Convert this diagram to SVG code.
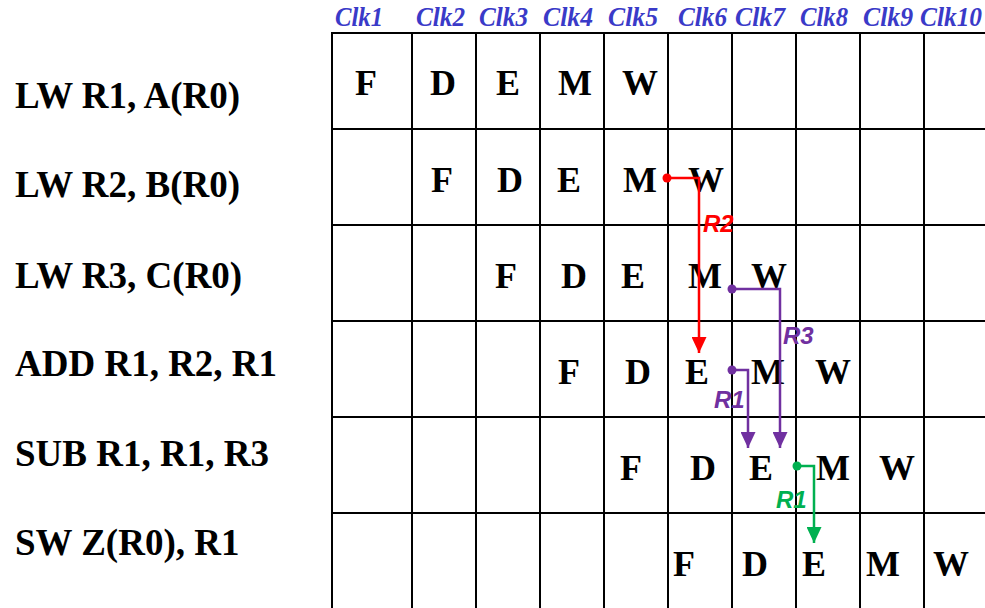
<svg xmlns="http://www.w3.org/2000/svg" width="985" height="608" viewBox="0 0 985 608">
<style>
.clk{font-family:"Liberation Serif",serif;font-weight:bold;font-style:italic;font-size:27px;fill:#3a3ac8}
.ins{font-family:"Liberation Serif",serif;font-weight:bold;font-size:37px;fill:#000}
.st{font-family:"Liberation Serif",serif;font-weight:bold;font-size:36px;fill:#000;text-anchor:middle}
.grid line{stroke:#000;stroke-width:2}
.lbl{font-family:"Liberation Sans",sans-serif;font-weight:bold;font-style:italic;font-size:24px}
.red{stroke:#ff0000;fill:none;stroke-width:2.5}
.pur{stroke:#7030a0;fill:none;stroke-width:2.5}
.grn{stroke:#00b050;fill:none;stroke-width:2.5}
</style>
<defs>
<marker id="ar" viewBox="0 0 16 15" refX="16" refY="7.5" markerUnits="userSpaceOnUse" markerWidth="16" markerHeight="15" orient="auto"><path d="M0,0 L16,7.5 L0,15 Z" fill="#ff0000"/></marker>
<marker id="ap" viewBox="0 0 16 15" refX="16" refY="7.5" markerUnits="userSpaceOnUse" markerWidth="16" markerHeight="15" orient="auto"><path d="M0,0 L16,7.5 L0,15 Z" fill="#7030a0"/></marker>
<marker id="ag" viewBox="0 0 16 15" refX="16" refY="7.5" markerUnits="userSpaceOnUse" markerWidth="16" markerHeight="15" orient="auto"><path d="M0,0 L16,7.5 L0,15 Z" fill="#00b050"/></marker>
</defs>
<rect width="985" height="608" fill="#fff"/>
<g id="clocks">
<text class="clk" x="335" y="26" textLength="48" lengthAdjust="spacingAndGlyphs">Clk1</text>
<text class="clk" x="416" y="26" textLength="49" lengthAdjust="spacingAndGlyphs">Clk2</text>
<text class="clk" x="479" y="26" textLength="49" lengthAdjust="spacingAndGlyphs">Clk3</text>
<text class="clk" x="543" y="26" textLength="50" lengthAdjust="spacingAndGlyphs">Clk4</text>
<text class="clk" x="608" y="26" textLength="50" lengthAdjust="spacingAndGlyphs">Clk5</text>
<text class="clk" x="678" y="26" textLength="49" lengthAdjust="spacingAndGlyphs">Clk6</text>
<text class="clk" x="735" y="26" textLength="50" lengthAdjust="spacingAndGlyphs">Clk7</text>
<text class="clk" x="800" y="26" textLength="48" lengthAdjust="spacingAndGlyphs">Clk8</text>
<text class="clk" x="863" y="26" textLength="50" lengthAdjust="spacingAndGlyphs">Clk9</text>
<text class="clk" x="920" y="26" textLength="62" lengthAdjust="spacingAndGlyphs">Clk10</text>
</g>
<g id="grid" class="grid">
<line x1="332" y1="33" x2="332" y2="608"/>
<line x1="412" y1="33" x2="412" y2="608"/>
<line x1="476" y1="33" x2="476" y2="608"/>
<line x1="540" y1="33" x2="540" y2="608"/>
<line x1="604" y1="33" x2="604" y2="608"/>
<line x1="668" y1="33" x2="668" y2="608"/>
<line x1="732" y1="33" x2="732" y2="608"/>
<line x1="796" y1="33" x2="796" y2="608"/>
<line x1="860" y1="33" x2="860" y2="608"/>
<line x1="924" y1="33" x2="924" y2="608"/>
<line x1="331" y1="33" x2="985" y2="33"/>
<line x1="331" y1="129" x2="985" y2="129"/>
<line x1="331" y1="225" x2="985" y2="225"/>
<line x1="331" y1="321" x2="985" y2="321"/>
<line x1="331" y1="417" x2="985" y2="417"/>
<line x1="331" y1="513" x2="985" y2="513"/>
</g>
<g id="i1">
<text class="ins" x="15" y="108">LW R1, A(R0)</text>
<text class="st" x="366" y="95">F</text><text class="st" x="443" y="95">D</text><text class="st" x="508" y="95">E</text><text class="st" x="575" y="95">M</text><text class="st" x="640" y="95">W</text>
</g>
<g id="i2">
<text class="ins" x="15" y="197">LW R2, B(R0)</text>
<text class="st" x="442" y="192">F</text><text class="st" x="510" y="192">D</text><text class="st" x="569" y="192">E</text><text class="st" x="640" y="192">M</text><text class="st" x="706" y="192">W</text>
</g>
<g id="i3">
<text class="ins" x="15" y="288">LW R3, C(R0)</text>
<text class="st" x="506" y="288">F</text><text class="st" x="574" y="288">D</text><text class="st" x="633" y="288">E</text><text class="st" x="705" y="288">M</text><text class="st" x="769" y="288">W</text>
</g>
<g id="i4">
<text class="ins" x="15" y="376">ADD R1, R2, R1</text>
<text class="st" x="569" y="384">F</text><text class="st" x="638" y="384">D</text><text class="st" x="697" y="384">E</text><text class="st" x="768" y="384">M</text><text class="st" x="833" y="384">W</text>
</g>
<g id="i5">
<text class="ins" x="15" y="466">SUB R1, R1, R3</text>
<text class="st" x="631" y="480">F</text><text class="st" x="703" y="480">D</text><text class="st" x="761" y="480">E</text><text class="st" x="833" y="480">M</text><text class="st" x="897" y="480">W</text>
</g>
<g id="i6">
<text class="ins" x="15" y="555">SW Z(R0), R1</text>
<text class="st" x="684" y="576">F</text><text class="st" x="755" y="576">D</text><text class="st" x="814" y="576">E</text><text class="st" x="883" y="576">M</text><text class="st" x="951" y="576">W</text>
</g>
<g id="connectors">
<circle cx="667" cy="178" r="4.5" fill="#ff0000"/>
<path class="red" d="M667,178 H699 V353" marker-end="url(#ar)"/>
<text class="lbl" x="703" y="232" fill="#ff0000">R2</text>
<circle cx="732" cy="289" r="4.5" fill="#7030a0"/>
<path class="pur" d="M732,289 H780 V448" marker-end="url(#ap)"/>
<text class="lbl" x="783" y="344" fill="#7030a0">R3</text>
<circle cx="732" cy="370" r="4.5" fill="#7030a0"/>
<path class="pur" d="M732,370 H748 V448" marker-end="url(#ap)"/>
<text class="lbl" x="714" y="408" fill="#7030a0">R1</text>
<circle cx="797" cy="466" r="4.5" fill="#00b050"/>
<path class="grn" d="M797,466 H814 V543" marker-end="url(#ag)"/>
<text class="lbl" x="776" y="508" fill="#00b050">R1</text>
</g>
</svg>
